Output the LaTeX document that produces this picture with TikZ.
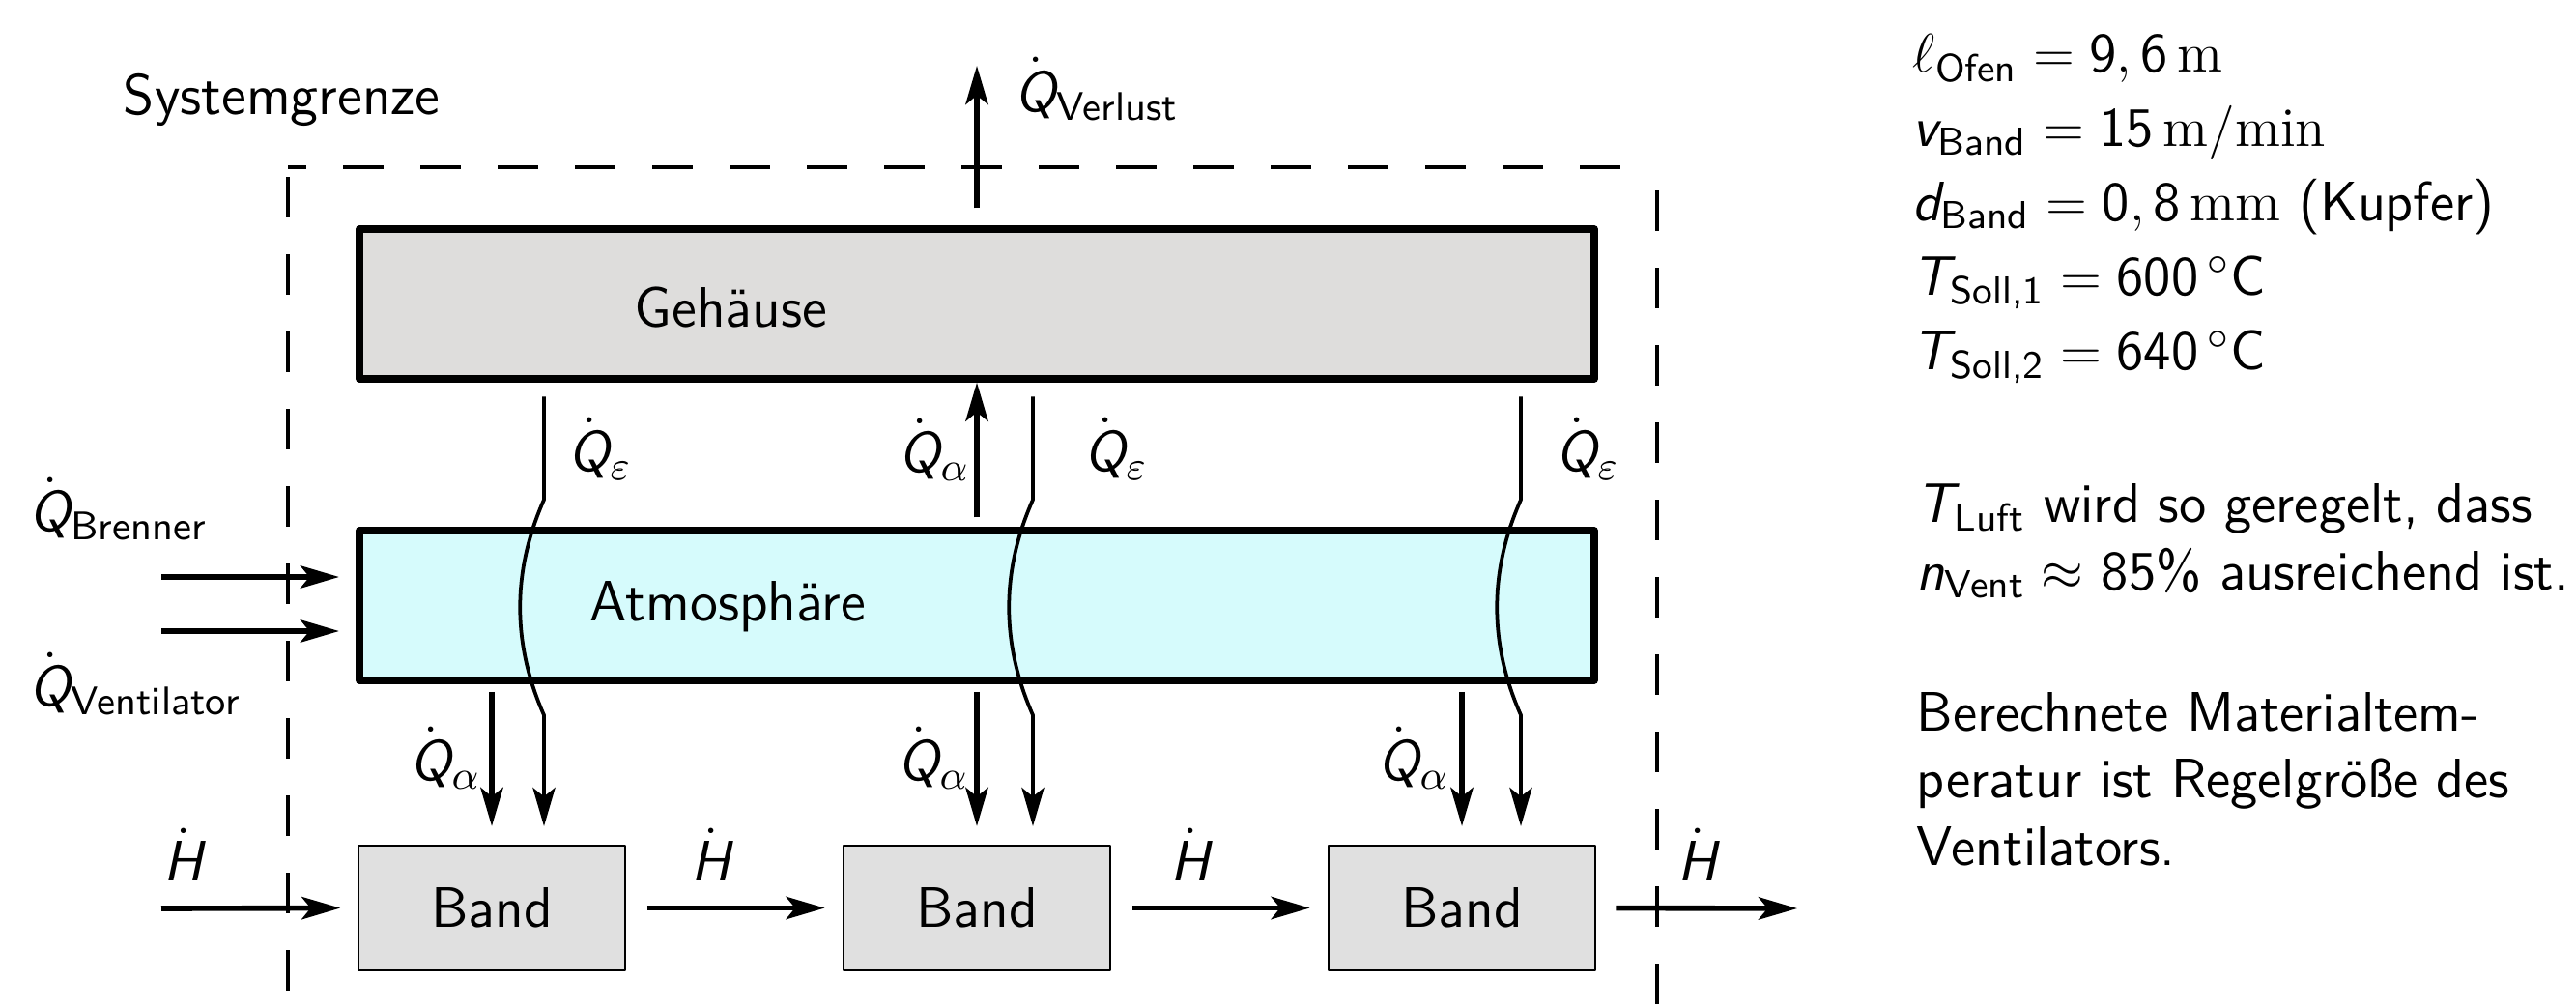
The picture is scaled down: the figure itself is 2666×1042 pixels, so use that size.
\documentclass[tikz,border=0pt]{standalone}
\usepackage{fontspec}
\usepackage{amsmath}
\usetikzlibrary{arrows.meta, positioning, calc}

\definecolor{gehgray}{RGB}{222,221,220}
\definecolor{bandgray}{RGB}{224,224,224}
\definecolor{atmocyan}{RGB}{214,251,252}

% one unit = one pixel of the sketch
\newcommand{\pxu}{0.075mm}
\newcommand{\msf}[1]{\textsf{\itshape #1}}
\newcommand{\Qd}[1]{$\dot{\msf{Q}}_{#1}$}
\newcommand{\Hd}{$\dot{\msf{H}}$}

\begin{document}
\begin{tikzpicture}[x=\pxu, y=-\pxu, line join=round,
    wall/.style={draw, fill=#1, line width=1.6pt, inner sep=0pt,
      minimum width=1278*\pxu, minimum height=155*\pxu},
    bandbox/.style={draw, fill=bandgray, line width=0.6pt, inner sep=0pt,
      minimum width=276*\pxu, minimum height=129*\pxu,
      font=\sffamily\fontsize{12.6}{15}\selectfont},
    flow/.style={line width=1.2pt, -{Stealth[length=3mm, width=1.75mm, inset=0.7mm]}},
    rad/.style={line width=0.8pt, -{Stealth[length=3mm, width=1.75mm, inset=0.7mm]}},
    border/.style={line width=0.8pt, dash pattern=on 3.15mm off 2.85mm},
    lbl/.style={font=\sffamily\fontsize{12.6}{15}\selectfont, inner sep=0pt},
    note/.style={font=\sffamily\fontsize{12.3}{14.8}\selectfont, inner sep=0pt,
      anchor=base west, align=left}]
  \useasboundingbox (0,0) rectangle (2666,1042);

  % ================= system boundary =================
  \draw[border] (298,183) -- (298,1042);
  \draw[border, dash phase=1.725mm] (298,173) -- (1715,173);
  \draw[border] (1715,197) -- (1715,1042);
  \node[lbl, anchor=base west] (sysgr) at (127,118) {Systemgrenze};

  % ================= furnace parts =================
  \node[wall=gehgray] (gehaeuse) at (1011,314.5) {};
  \node[lbl, anchor=base west] (gehtext) at (656,338) {Gehäuse};
  \node[wall=atmocyan] (atmo) at (1011,626.5) {};
  \node[lbl, anchor=base west] (atmotext) at (610,642) {Atmosphäre};
  \node[bandbox] (band1) at (509,939.5) {Band};
  \node[bandbox] (band2) at (1011,939.5) {Band};
  \node[bandbox] (band3) at (1513,939.5) {Band};

  % losses and housing
  \coordinate (verlust) at (1011,68);
  \draw[flow, shorten <=1.35mm] (gehaeuse.north) -- (verlust);
  \node[lbl, anchor=base west] (qverlust) at (1050,115) {\Qd{\textsf{Verlust}}};
  \draw[flow, shorten <=0.75mm] (atmo.north) -- (gehaeuse.south);
  \node[lbl, anchor=base west] (qalphaup) at (930,488) {\Qd{\alpha}};

  % burner and fan into the atmosphere
  \coordinate (brenner) at (167,597);
  \coordinate (vent) at (167,653);
  \draw[flow, shorten >=1.3mm] (brenner) -- (brenner -| atmo.west);
  \draw[flow, shorten >=1.3mm] (vent) -- (vent -| atmo.west);
  \node[lbl, anchor=base west] (qbrenner) at (30,549) {\Qd{\textsf{Brenner}}};
  \node[lbl, anchor=base west] (qvent) at (30,730) {\Qd{\textsf{Ventilator}}};

  % convection and radiation onto each strip section
  \foreach \b/\ex/\qa/\qe in {band1/563/424/588, band2/1069/929/1122, band3/1574/1426/1610} {
    \draw[flow, shorten <=0.6mm, shorten >=1.4mm] (atmo.south -| \b) -- (\b.north);
    \node[lbl, anchor=base west] (qa-\b) at (\qa,807) {\Qd{\alpha}};
    \draw[rad, shorten <=1.1mm, shorten >=1.4mm] (gehaeuse.south -| \ex,0) -- (\ex,517)
       .. controls (\ex-33,591) and (\ex-33,666) .. (\ex,740) -- (\b.north -| \ex,0);
    \node[lbl, anchor=base west] (qe-\b) at (\qe,487) {\Qd{\varepsilon}};
  }

  % enthalpy flow of the strip
  \coordinate (hin) at (167,940);
  \coordinate (hout) at (1860,940);
  \draw[flow, shorten >=1.3mm] (hin) -- (band1.west);
  \draw[flow, shorten <=1.6mm, shorten >=1.35mm] (band1.east) -- (band2.west);
  \draw[flow, shorten <=1.6mm, shorten >=1.35mm] (band2.east) -- (band3.west);
  \draw[flow, shorten <=1.5mm] (band3.east) -- (hout);
  \node[lbl, anchor=base west] (h0) at (169,911) {\Hd};
  \node[lbl, anchor=base west] (h1) at (715,911) {\Hd};
  \node[lbl, anchor=base west] (h2) at (1211,911) {\Hd};
  \node[lbl, anchor=base west] (h3) at (1736,911) {\Hd};

  % ================= notes on the right =================
  % (base of an aligned node = baseline of its last line)
  \node[note, font=\sffamily\fontsize{12.3}{16.4}\selectfont] (params) at (1979,382)
    {$\ell_{\textsf{Ofen}} = \textsf{9},\textsf{6}\,\mathrm{m}$\\
     $\msf{v}_{\textsf{Band}} = \textsf{15}\,\mathrm{m/min}$\\
     $\msf{d}_{\textsf{Band}} = \textsf{0},\textsf{8}\,\mathrm{mm}$ (Kupfer)\\
     $\msf{T}_{\textsf{Soll,1}} = \textsf{600}\,{}^{\circ}\textsf{C}$\\
     $\msf{T}_{\textsf{Soll,2}} = \textsf{640}\,{}^{\circ}\textsf{C}$};
  \node[note] (luft) at (1983,610)
    {$\msf{T}_{\textsf{Luft}}$ wird so geregelt, dass\\
     $\msf{n}_{\textsf{Vent}} \approx$ 85\% ausreichend ist.};
  \node[note] (regel) at (1983,895)
    {Berechnete Materialtem-\\
     peratur ist Regelgröße des\\
     Ventilators.};
\end{tikzpicture}
\end{document}
